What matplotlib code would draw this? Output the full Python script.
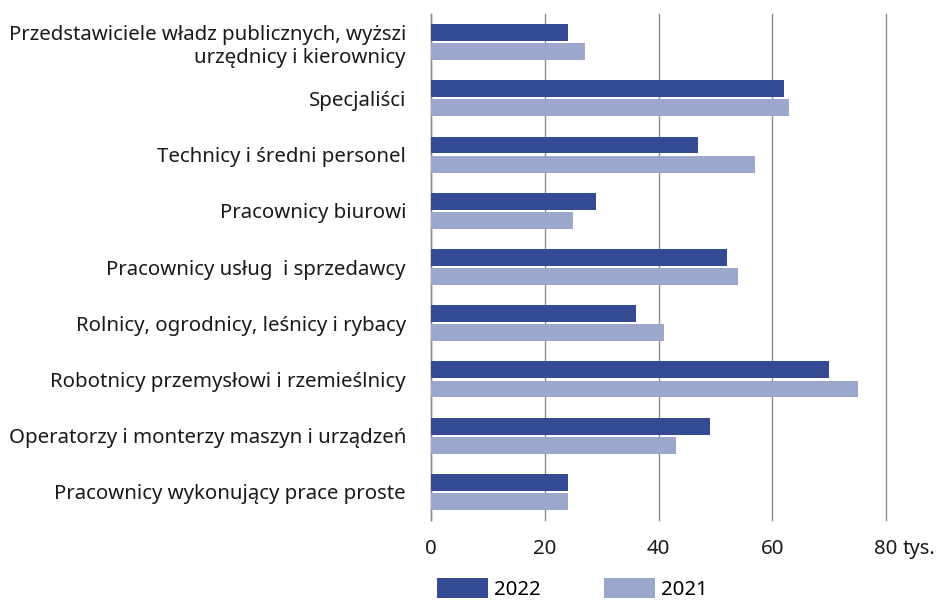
import numpy as np
import matplotlib
matplotlib.use('Agg')
import matplotlib.pyplot as plt

plt.rcParams['font.family'] = ['Noto Sans', 'DejaVu Sans']

categories = [
    'Przedstawiciele władz publicznych, wyższi\nurzędnicy i kierownicy',
    'Specjaliści',
    'Technicy i średni personel',
    'Pracownicy biurowi',
    'Pracownicy usług  i sprzedawcy',
    'Rolnicy, ogrodnicy, leśnicy i rybacy',
    'Robotnicy przemysłowi i rzemieślnicy',
    'Operatorzy i monterzy maszyn i urządzeń',
    'Pracownicy wykonujący prace proste',
]
values_2022 = [24, 62, 47, 29, 52, 36, 70, 49, 24]
values_2021 = [27, 63, 57, 25, 54, 41, 75, 43, 24]
x_ticks = [0, 20, 40, 60, 80]

c2022 = '#344a92'
c2021 = '#9ba8cb'
grid_c = '#8c8c8c'
fs = 14.7

fig = plt.figure(figsize=(9.36, 6.01), dpi=100)
ax = fig.add_axes([431 / 936, 1 - 520 / 601, 455 / 936, 506 / 601])

y = np.arange(len(categories))
h = 0.3
ax.barh(y - 0.17, values_2022, height=h, color=c2022, label='2022', zorder=3)
ax.barh(y + 0.17, values_2021, height=h, color=c2021, label='2021', zorder=3)

ax.set_xlim(0, 80)
ax.set_ylim(len(categories) - 0.5, -0.5)
ax.set_xticks(x_ticks)
ax.set_xticklabels([str(t) for t in x_ticks], fontsize=fs, color='#1a1a1a')
ax.set_yticks(y)
ax.set_yticklabels(categories, fontsize=fs, color='#1a1a1a')
ax.tick_params(axis='both', length=0)
ax.tick_params(axis='y', pad=18)
ax.tick_params(axis='x', pad=14)

ax.grid(axis='x', color=grid_c, linewidth=1, zorder=0)
for line in ax.get_xgridlines():
    line.set_clip_on(False)
for s in ['top', 'right', 'bottom']:
    ax.spines[s].set_visible(False)
ax.spines['left'].set_color(grid_c)
ax.spines['left'].set_linewidth(1)

# unit suffix next to the last tick label
ax.annotate('tys.', xy=(80, 0), xycoords=('data', 'axes fraction'),
            xytext=(12, -14), textcoords='offset points',
            ha='left', va='top', fontsize=fs, color='#1a1a1a')

fig.legend(loc='upper left', bbox_to_anchor=(437 / 936, 1 - 578 / 601),
           ncol=2, frameon=False, fontsize=fs, handlelength=2.5,
           handleheight=1.1, handletextpad=0.3, columnspacing=3.1,
           borderpad=0, borderaxespad=0)

fig.savefig('out.png', dpi=100)
